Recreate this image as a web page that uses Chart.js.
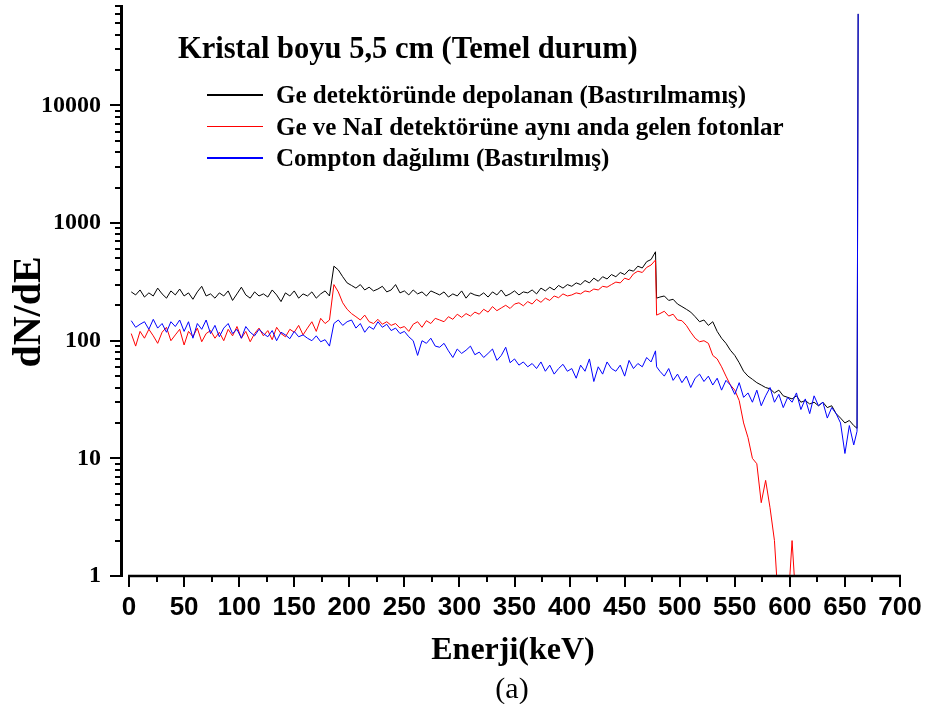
<!DOCTYPE html>
<html>
<head>
<meta charset="utf-8">
<title>Kristal boyu 5,5 cm (Temel durum)</title>
<script src="https://cdn.jsdelivr.net/npm/chart.js@4.4.1/dist/chart.umd.min.js"></script>
<style>
    body { margin: 0; background: #fff; }
    #wrapper { position: relative; width: 929px; height: 704px; overflow: hidden; }
    #spectrum_chart { position: absolute; left: 0; top: 0; }
    .txt { position: absolute; font-family: "Liberation Serif", "Times New Roman", serif; color: #000; white-space: nowrap; }
    #chart_title { left: 178px; top: 28px; font-size: 30.5px; font-weight: bold; line-height: 40px; }
    .legend_row { position: absolute; left: 207px; height: 30px; display: flex; align-items: center; }
    .legend_row .swatch { width: 56px; height: 1.5px; margin-right: 13px; }
    .legend_row span { font-family: "Liberation Serif", "Times New Roman", serif; font-weight: bold; font-size: 25px; line-height: 30px; white-space: nowrap; }
    #y_title { left: -53px; top: 289px; width: 160px; text-align: center; font-size: 40px; font-weight: bold; line-height: 46px; transform: rotate(-90deg); }
    #x_title { left: 363px; top: 628px; width: 300px; text-align: center; font-size: 32px; font-weight: bold; line-height: 40px; }
    #caption { left: 452px; top: 670px; width: 120px; text-align: center; font-size: 30px; line-height: 36px; }
</style>
</head>
<body>
<div id="wrapper">
    <canvas id="spectrum_chart" width="929" height="704"></canvas>
    <div class="txt" id="chart_title">Kristal boyu 5,5 cm (Temel durum)</div>
    <div id="legend"></div>
    <div class="txt" id="y_title">dN/dE</div>
    <div class="txt" id="x_title">Enerji(keV)</div>
    <div class="txt" id="caption">(a)</div>
</div>
<script>
// Energy bins (keV)
const energy = [
    2, 6, 10, 14, 18, 22, 26, 30, 34, 38,
    42, 46, 50, 54, 58, 62, 66, 70, 74, 78,
    82, 86, 90, 94, 98, 102, 106, 110, 114, 118,
    122, 126, 130, 134, 138, 142, 146, 150, 154, 158,
    162, 166, 170, 174, 178, 182, 186, 190, 194, 198,
    202, 206, 210, 214, 218, 222, 226, 230, 234, 238,
    242, 246, 250, 254, 258, 262, 266, 270, 274, 278,
    282, 286, 290, 294, 298, 302, 306, 310, 314, 318,
    322, 326, 330, 334, 338, 342, 346, 350, 354, 358,
    362, 366, 370, 374, 378, 382, 386, 390, 394, 398,
    402, 406, 410, 414, 418, 422, 426, 430, 434, 438,
    442, 446, 450, 454, 458, 462, 466, 470, 474, 478,
    479,
    482, 486, 490, 494, 498, 502, 506, 510, 514, 518,
    522, 526, 530, 534, 538, 542, 546, 550, 554, 558,
    562, 566, 570, 574, 578, 582, 586, 590, 594, 598,
    602, 606, 610, 614, 618, 622, 626, 630, 634, 638,
    642, 646, 650, 654, 658,
    661, 662
];

// Ge detektöründe depolanan (Bastırılmamış)
const ge_total = [
    260, 245, 270, 235, 255, 240, 280, 250, 230, 265,
    245, 275, 240, 255, 225, 260, 290, 240, 250, 230,
    255, 240, 265, 220, 250, 285, 245, 230, 260, 240,
    250, 235, 270, 245, 215, 255, 240, 265, 230, 250,
    240, 260, 230, 250, 265, 240, 430, 400, 350, 310,
    295, 280, 300, 270, 285, 265, 275, 290, 260, 270,
    300, 255, 265, 245, 270, 250, 260, 240, 265, 255,
    245, 260, 235, 250, 240, 265, 230, 255, 245, 240,
    255, 235, 260, 245, 270, 240, 250, 265, 245, 260,
    255, 270, 250, 280, 265, 285, 270, 295, 280, 300,
    290, 310, 300, 325, 310, 340, 320, 350, 335, 365,
    350, 380, 365, 400, 390, 430, 415, 470, 490, 570,
    230,
    235, 240, 220, 225, 205, 195, 185, 175, 160, 145,
    150, 135, 145, 120, 105, 95, 83, 75, 65, 55,
    50, 47, 44, 42, 40, 39, 36, 38, 34, 33,
    32, 34, 30, 31, 29, 30, 28, 30, 27, 28,
    24, 22, 20, 21, 19,
    18, 60000
];

// Ge ve NaI detektörüne aynı anda gelen fotonlar (0.5 = below the axis)
const coincident = [
    115, 90, 120, 105, 125, 110, 95, 118, 130, 100,
    112, 125, 92, 120, 108, 128, 98, 115, 122, 105,
    118, 100, 125, 110, 132, 105, 120, 98, 115, 128,
    110, 122, 102, 130, 115, 108, 125, 118, 135, 112,
    128, 145, 120, 155, 140, 150, 300, 260, 210, 185,
    170, 160, 150, 165, 145, 140, 152, 138, 145, 135,
    140, 128, 132, 120, 138, 145, 130, 148, 140, 155,
    150, 145, 160, 152, 168, 158, 170, 162, 175, 168,
    185, 175, 195, 180, 190, 200, 188, 205, 210, 198,
    215, 205, 225, 212, 230, 220, 240, 232, 250, 240,
    245, 255, 250, 265, 260, 275, 270, 290, 285, 300,
    315, 310, 340, 330, 370, 390, 380, 420, 440, 485,
    165,
    170, 178, 162, 168, 150, 148, 135, 118, 105, 98,
    100, 95, 75, 70, 60, 50, 42, 38, 31, 20,
    15, 10, 9, 4.2, 6.5, 3.8, 2, 0.5, 0.5, 0.5,
    2, 0.5, 0.5, 0.5, 0.5, 0.5, 0.5, null, null, null,
    null, null, null, null, null,
    null, null
];

// Compton dağılımı (Bastırılmış)
const compton = [
    148, 130, 138, 145, 125, 152, 128, 140, 118, 145,
    132, 150, 120, 145, 105, 140, 125, 150, 115, 135,
    108, 128, 140, 115, 125, 105, 132, 118, 110, 125,
    115, 108, 122, 100, 118, 112, 104, 120, 108, 112,
    105, 100, 110, 98, 102, 90, 140, 150, 135, 145,
    150, 128, 140, 118, 132, 125, 145, 130, 138, 122,
    128, 115, 120, 108, 100, 75, 100, 95, 105, 90,
    88, 95, 82, 72, 85, 78, 83, 90, 76, 80,
    72, 78, 85, 68, 75, 88, 65, 70, 62, 66,
    60, 64, 58, 66, 55, 62, 52, 58, 63, 55,
    58, 48, 62, 55, 70, 45, 60, 52, 66, 58,
    55, 62, 50, 68, 58, 64, 60, 72, 66, 82,
    60,
    55, 50, 58, 46, 52, 44, 50, 40, 48, 52,
    45, 50, 42, 48, 38, 46, 42, 35, 44, 33,
    36, 30, 38, 28, 34, 40, 30, 35, 27, 33,
    30, 36, 26, 32, 24, 34, 28, 30, 22, 27,
    24, 20, 11, 19, 13,
    17, 60000
];

const series_names = [
    'Ge detektöründe depolanan (Bastırılmamış)',
    'Ge ve NaI detektörüne aynı anda gelen fotonlar',
    'Compton dağılımı (Bastırılmış)'
];
const series_colors = ['#000000', '#ff0000', '#0000ff'];

// Axis ticks
const x_major = [0, 50, 100, 150, 200, 250, 300, 350, 400, 450, 500, 550, 600, 650, 700];
const x_minor = [25, 75, 125, 175, 225, 275, 325, 375, 425, 475, 525, 575, 625, 675];
const y_major = [1, 10, 100, 1000, 10000];
const y_max = 70000;

var y_minor = [];
y_major.forEach(function(d){
    for (let k = 2; k < 10; k++){
        if (d*k <= y_max) y_minor.push(d*k);
    }
});

function toPoints(values){
    return energy.map(function(e, i){ return {x: e, y: values[i]}; });
}

// Legend
(function(){
    var legend = document.getElementById('legend');
    series_names.forEach(function(name, i){
        let row = document.createElement('div');
        row.className = 'legend_row';
        row.style.top = (80 + i*31.5) + 'px';
        row.innerHTML = '<div class="swatch" style="background:' + series_colors[i] + '"></div><span>' + name + '</span>';
        legend.appendChild(row);
    });
})();

// Origin style axes: x line starts at 0, outward major / minor ticks
const originAxes = {
    id: 'originAxes',
    afterDraw: function(chart){
        const ctx = chart.ctx;
        const xs = chart.scales.x;
        const ys = chart.scales.y;
        const area = chart.chartArea;

        ctx.save();
        ctx.strokeStyle = '#000';
        ctx.lineWidth = 2.5;
        ctx.beginPath();
        ctx.moveTo(xs.getPixelForValue(0) - 1, area.bottom);
        ctx.lineTo(area.right + 1, area.bottom);
        ctx.stroke();

        ctx.lineWidth = 2;
        ctx.beginPath();
        x_major.forEach(function(v){
            let px = Math.round(xs.getPixelForValue(v));
            ctx.moveTo(px, area.bottom); ctx.lineTo(px, area.bottom + 11);
        });
        x_minor.forEach(function(v){
            let px = Math.round(xs.getPixelForValue(v));
            ctx.moveTo(px, area.bottom); ctx.lineTo(px, area.bottom + 6);
        });
        y_major.forEach(function(v){
            let py = Math.round(ys.getPixelForValue(v));
            ctx.moveTo(area.left, py); ctx.lineTo(area.left - 11, py);
        });
        y_minor.forEach(function(v){
            let py = Math.round(ys.getPixelForValue(v));
            ctx.moveTo(area.left, py); ctx.lineTo(area.left - 6, py);
        });
        ctx.stroke();
        ctx.restore();
    }
};

window.addEventListener('load', function(){
    var ctx = document.getElementById('spectrum_chart').getContext('2d');
    const all_series = [ge_total, coincident, compton];

    var spectrum_chart = new Chart(ctx, {
        type: 'line',
        data: {
            datasets: all_series.map(function(values, i){
                return {
                    label: series_names[i],
                    data: toPoints(values),
                    borderColor: series_colors[i],
                    borderWidth: 1,
                    pointRadius: 0,
                    tension: 0,
                    fill: false,
                    order: 3 - i
                };
            })
        },
        plugins: [originAxes],
        options: {
            responsive: false,
            animation: false,
            devicePixelRatio: 1,
            layout: { padding: { top: 6, right: 29, bottom: 0, left: 0 } },
            plugins: {
                legend: { display: false },
                tooltip: { enabled: false },
                title: { display: false }
            },
            scales: {
                x: {
                    type: 'linear',
                    min: -7.3,
                    max: 700,
                    grid: { display: false, drawTicks: false },
                    border: { display: false },
                    afterBuildTicks: function(scale){
                        scale.ticks = x_major.map(function(v){ return {value: v}; });
                    },
                    afterFit: function(scale){
                        scale.height = 128;
                        scale.paddingLeft = 0;
                        scale.paddingRight = 0;
                    },
                    ticks: {
                        autoSkip: false,
                        maxRotation: 0,
                        padding: 16,
                        color: '#000',
                        font: { family: '"Liberation Sans", Arial, sans-serif', weight: 'bold', size: 26 },
                        callback: function(v){ return String(v); }
                    }
                },
                y: {
                    type: 'logarithmic',
                    min: 1,
                    max: y_max,
                    grid: { display: false, drawTicks: false },
                    border: { display: true, color: '#000', width: 3 },
                    afterBuildTicks: function(scale){
                        scale.ticks = y_major.map(function(v){ return {value: v}; });
                    },
                    afterFit: function(scale){
                        scale.width = 121;
                        scale.paddingTop = 0;
                        scale.paddingBottom = 0;
                    },
                    ticks: {
                        padding: 20,
                        color: '#000',
                        font: { family: '"Liberation Serif", "Times New Roman", serif', weight: 'bold', size: 24 },
                        callback: function(v){ return String(v); }
                    }
                }
            }
        }
    });
});
</script>
</body>
</html>
